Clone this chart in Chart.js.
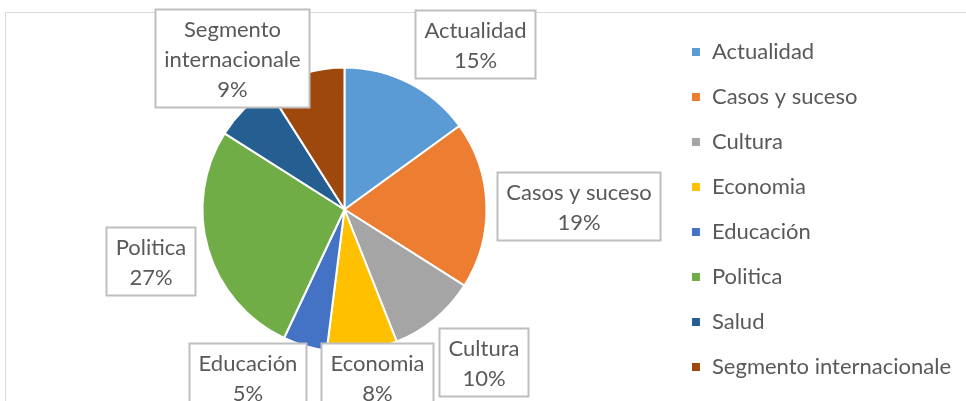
<!DOCTYPE html>
<html>
<head>
<meta charset="utf-8">
<script src="https://cdn.jsdelivr.net/npm/chart.js@4.4.0/dist/chart.umd.min.js"></script>
<style>
  html, body { margin: 0; padding: 0; background: #fff; }
  #wrap { width: 966px; height: 401px; position: relative; }
</style>
</head>
<body>
<div id="wrap"><canvas id="myChart" width="966" height="401"></canvas></div>
<script>
var categories = ["Actualidad", "Casos y suceso", "Cultura", "Economia", "Educación", "Politica", "Salud", "Segmento internacionale"];
var percentages = [15, 19, 10, 8, 5, 27, 7, 9];
var sliceColors = ['#5B9BD5', '#ED7D31', '#A5A5A5', '#FFC000', '#4472C4', '#70AD47', '#255E91', '#9E480E'];
// text lines shown in each data label box (null = no label, Excel hid it)
var labelLines = [
    ["Actualidad"],
    ["Casos y suceso"],
    ["Cultura"],
    ["Economia"],
    ["Educación"],
    ["Politica"],
    null,
    ["Segmento", "internacionale"]
];

var FONT = 'Lato';
var TEXT = '#595959';

// nudges for the callout boxes, relative to a point just outside each slice
var labelNudge = [[41, 10], [37, 3], [13, 1], [8, -28], [-42, -22], [-5, -3], [0, 0], [-58, 38]];

// frame of the chart (only top and left edges are visible in the crop)
var framePlugin = {
    id: 'frame',
    beforeDraw: function (chart) {
        var c = chart.ctx;
        c.save();
        c.strokeStyle = '#d9d9d9';
        c.lineWidth = 1;
        c.beginPath();
        c.moveTo(5.5, 420);
        c.lineTo(5.5, 12.5);
        c.lineTo(980, 12.5);
        c.stroke();
        c.restore();
    }
};

var calloutPlugin = {
    id: 'callouts',
    afterDatasetsDraw: function (chart) {
        var c = chart.ctx;
        var meta = chart.getDatasetMeta(0);
        var data = chart.data.datasets[0].data;
        c.save();
        c.font = '22px ' + FONT;
        c.textAlign = 'center';
        c.textBaseline = 'middle';
        meta.data.forEach(function (arc, i) {
            if (!labelLines[i]) return;
            var p = arc.getProps(['x', 'y', 'startAngle', 'endAngle', 'outerRadius'], true);
            var mid = (p.startAngle + p.endAngle) / 2;
            var cx = p.x + Math.cos(mid) * (p.outerRadius + 55) + labelNudge[i][0];
            var cy = p.y + Math.sin(mid) * (p.outerRadius + 55) + labelNudge[i][1];
            var lines = labelLines[i].concat([data[i] + '%']);
            var w = 0;
            lines.forEach(function (l) { w = Math.max(w, c.measureText(l).width); });
            var lh = 30;
            var bw = Math.round(w + 18), bh = lines.length * lh + 8;
            var bx = Math.round(cx - bw / 2) + 0.5, by = Math.round(cy - bh / 2) + 0.5;
            c.fillStyle = '#fff';
            c.fillRect(bx, by, bw, bh);
            c.strokeStyle = '#bfbfbf';
            c.lineWidth = 2;
            c.strokeRect(bx, by, bw, bh);
            c.fillStyle = TEXT;
            lines.forEach(function (l, k) {
                c.fillText(l, bx + bw / 2, by + 4 + lh * k + lh / 2 + 1);
            });
        });
        c.restore();
    }
};

var ctx = document.getElementById('myChart').getContext('2d');
var chart = new Chart(ctx, {
    type: 'pie',
    data: {
        labels: categories,
        datasets: [{
            data: percentages,
            backgroundColor: sliceColors,
            borderColor: '#ffffff',
            borderWidth: 2,
            radius: 142
        }]
    },
    options: {
        responsive: false,
        animation: false,
        layout: { padding: { left: 21, right: 5, top: 18, bottom: 0 } },
        plugins: {
            tooltip: { enabled: false },
            legend: {
                position: 'right',
                align: 'center',
                labels: {
                    boxWidth: 10,
                    boxHeight: 10,
                    padding: 23,
                    color: TEXT,
                    font: { family: FONT, size: 22 }
                }
            }
        }
    },
    plugins: [framePlugin, calloutPlugin]
});
</script>
</body>
</html>
